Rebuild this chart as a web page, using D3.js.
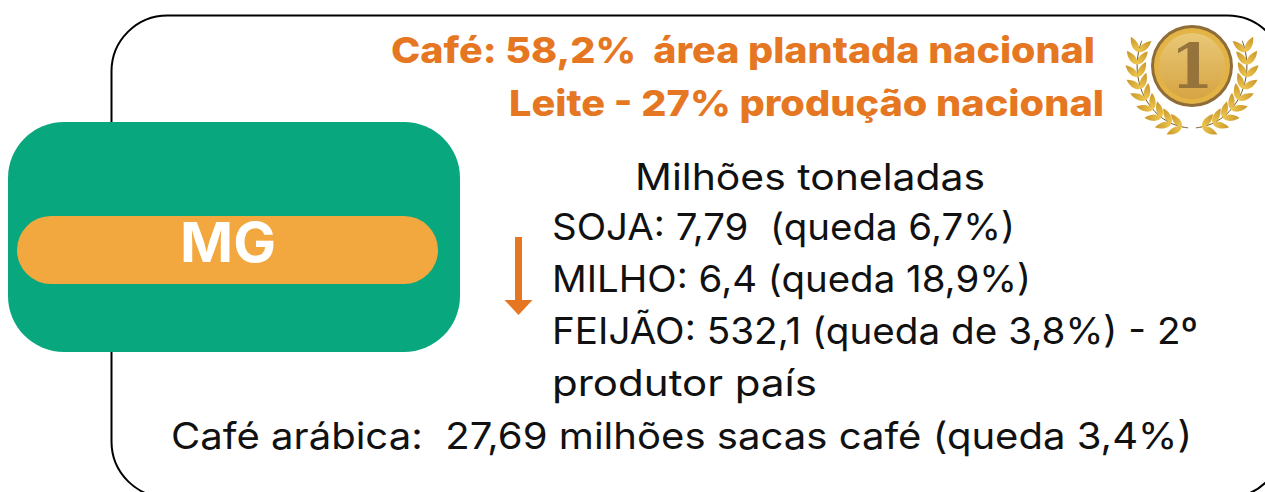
<!DOCTYPE html>
<html>
<head>
<meta charset="utf-8">
<script src="https://cdn.jsdelivr.net/npm/d3@7"></script>
<style>
  html, body { margin: 0; padding: 0; background: #fff; overflow: hidden; }
  text { white-space: pre; font-family: Inter, "Open Sans", sans-serif; }
</style>
</head>
<body>
<div id="chart"></div>
<script>
// text content
var headlines = ["Café: 58,2%  área plantada nacional", "Leite - 27% produção nacional"];
var unitLabel = "Milhões toneladas";
var cropLines = ["SOJA: 7,79  (queda 6,7%)", "MILHO: 6,4 (queda 18,9%)", "FEIJÃO: 532,1 (queda de 3,8%) - 2º", "produtor país"];
var coffeeLine = "Café arábica:  27,69 milhões sacas café (queda 3,4%)";
var stateLabel = "MG";
var medalLabel = "1";

var width = 1265, height = 492;
var orange = "#e67722", green = "#09a77e", amber = "#f3a83f";

var svg = d3.select("#chart").append("svg")
    .attr("width", width)
    .attr("height", height)
    .style("display", "block");

// outer frame runs off the right and bottom edges
svg.append("rect")
    .attr("x", 111.5).attr("y", 15.5)
    .attr("width", 1172).attr("height", 482)
    .attr("rx", 56)
    .attr("fill", "none")
    .attr("stroke", "#000")
    .attr("stroke-width", 2);

// state badge
svg.append("rect")
    .attr("x", 8).attr("y", 122)
    .attr("width", 452).attr("height", 230)
    .attr("rx", 56)
    .attr("fill", green);

svg.append("rect")
    .attr("x", 17).attr("y", 216)
    .attr("width", 421).attr("height", 68)
    .attr("rx", 34)
    .attr("fill", amber);

function label(str, x, y, w, size, weight, color) {
    return svg.append("text")
        .attr("x", x).attr("y", y)
        .attr("textLength", w)
        .attr("lengthAdjust", "spacingAndGlyphs")
        .attr("font-size", size)
        .attr("font-weight", weight)
        .attr("fill", color)
        .text(str);
}

label(stateLabel, 180, 262, 96, 55, 700, "#fff");

// headlines
var headX = [391, 509], headW = [704, 595], headY = [63, 116];
headlines.forEach(function(t, i) {
    label(t, headX[i], headY[i], headW[i], 36, 800, orange);
});

// body text
label(unitLabel, 635, 190, 350, 37, 400, "#111");
var cropW = [463, 479, 646, 265];
var lineY = d3.scaleLinear().domain([0, 3]).range([240, 396]);
cropLines.forEach(function(t, i) {
    label(t, 552, lineY(i), cropW[i], 37, 400, "#111");
});
label(coffeeLine, 171, 449, 1021, 37, 400, "#111");

// down arrow
svg.append("rect")
    .attr("x", 515).attr("y", 237)
    .attr("width", 7).attr("height", 64)
    .attr("fill", orange);
svg.append("path")
    .attr("d", d3.line()([[504.5, 300], [532.5, 300], [518.5, 315]]) + "Z")
    .attr("fill", orange);

// medal
var cx = 1192, cy = 66;
var medal = svg.append("g").attr("transform", "translate(" + cx + "," + cy + ")");

var defs = svg.append("defs");
var grad = defs.append("linearGradient")
    .attr("id", "medalFill")
    .attr("x1", 0).attr("y1", 0).attr("x2", 0).attr("y2", 1);
grad.append("stop").attr("offset", 0).attr("stop-color", "#e9c877");
grad.append("stop").attr("offset", 1).attr("stop-color", "#d6a443");

var leafGrad = defs.append("linearGradient")
    .attr("id", "leafFill")
    .attr("x1", 0).attr("y1", 0).attr("x2", 1).attr("y2", 0);
leafGrad.append("stop").attr("offset", 0).attr("stop-color", "#f0c850");
leafGrad.append("stop").attr("offset", 1).attr("stop-color", "#c8962a");

// laurel: two mirrored branches along an elliptical arc
var branchAngle = d3.scaleLinear().domain([0, 1]).range([86, -24]);
var rx = 55, ry = 62;
var leafPath = "M0,0C3,-4 10,-4.5 17,0C10,4.5 3,4 0,0Z";

function arcPoint(t) {
    var a = branchAngle(t) * Math.PI / 180;
    return [rx * Math.cos(a), ry * Math.sin(a)];
}

[1, -1].forEach(function(side) {
    var branch = medal.append("g").attr("transform", "scale(" + side + ",1)");

    branch.append("path")
        .attr("d", d3.line().curve(d3.curveBasis)(d3.range(0, 1.001, 0.05).map(arcPoint)))
        .attr("fill", "none")
        .attr("stroke", "#6d5524")
        .attr("stroke-width", 1);

    d3.range(0.06, 1.001, 0.105).forEach(function(t) {
        var p = arcPoint(t);
        var a = branchAngle(t) * Math.PI / 180;
        var tangent = Math.atan2(-ry * Math.cos(a), rx * Math.sin(a)) * 180 / Math.PI;
        [tangent - 38, tangent + 38].forEach(function(rot) {
            branch.append("path")
                .attr("d", leafPath)
                .attr("transform", "translate(" + p[0] + "," + p[1] + ") rotate(" + rot + ")")
                .attr("fill", "url(#leafFill)");
        });
    });
});

medal.append("circle").attr("r", 41).attr("fill", "#8f6d38");
medal.append("circle").attr("r", 38).attr("fill", "#e3b445");
medal.append("circle").attr("r", 33).attr("fill", "url(#medalFill)");
medal.append("text")
    .attr("text-anchor", "middle")
    .attr("y", 22)
    .attr("font-size", 62)
    .attr("font-weight", 700)
    .attr("fill", "#96733a")
    .style("font-family", "'DejaVu Serif', serif")
    .text(medalLabel);
</script>
</body>
</html>
